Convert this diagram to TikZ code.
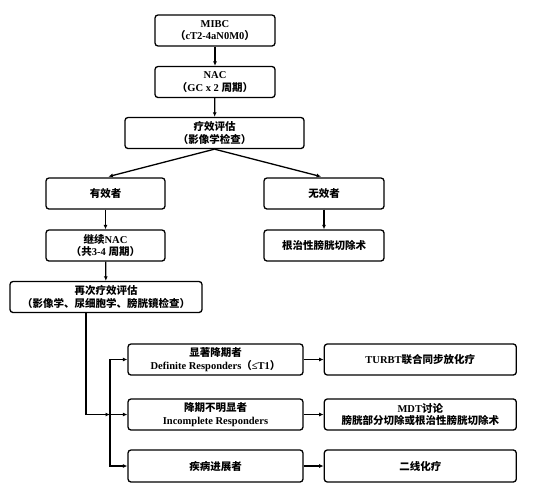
\documentclass[tikz,border=0pt]{standalone}
\usepackage{fontspec}
\setmainfont{Liberation Serif}
\newfontfamily\cjk{Noto Sans CJK SC}
\usetikzlibrary{arrows.meta, positioning}
\newcommand{\zh}[1]{{\cjk #1}}

\begin{document}
\begin{tikzpicture}[x=1pt, y=-1pt, font=\fontsize{10.5}{12.5}\selectfont\bfseries,
    >={Latex[length=4.5pt, width=4pt]}]
  % Box Styles
  \tikzstyle{flowbox} = [draw=black, rounded corners=3pt, line width=1.3pt,
    align=center, inner sep=1pt, minimum height=31pt]
  \tikzstyle{flowline} = [->, line width=1.3pt]

  \useasboundingbox (0,0) rectangle (537,496);

  % Upper trunk
  \node[flowbox, minimum width=120pt] (mibc) at (215,30.5)
    {MIBC\\\zh{（}cT2-4aN0M0\zh{）}};
  \node[flowbox, minimum width=120pt] (nac) at (215,82)
    {NAC\\\zh{（}GC x 2 \zh{周期）}};
  \node[flowbox, minimum width=179pt] (eval) at (214.5,133)
    {\zh{疗效评估}\\\zh{（影像学检查）}};

  % Two branches
  \node[flowbox, minimum width=119pt] (good) at (105.5,193.5) {\zh{有效者}};
  \node[flowbox, minimum width=120pt] (poor) at (324,193.5) {\zh{无效者}};
  \node[flowbox, minimum width=119pt] (contnac) at (105.5,245.5)
    {\zh{继续}NAC\\\zh{（共}3-4 \zh{周期）}};
  \node[flowbox, minimum width=120pt] (cystect) at (324,245.5) {\zh{根治性膀胱切除术}};
  \node[flowbox, minimum width=192pt] (reeval) at (106,297)
    {\zh{再次疗效评估}\\\zh{（影像学、尿细胞学、膀胱镜检查）}};

  % Response groups
  \node[flowbox, minimum width=175pt] (dr) at (215.5,359.5)
    {\zh{显著降期者}\\Definite Responders\zh{（}≤T1\zh{）}};
  \node[flowbox, minimum width=175pt] (ir) at (215.5,414.5)
    {\zh{降期不明显者}\\Incomplete Responders};
  \node[flowbox, minimum width=175pt, minimum height=32pt] (pd) at (215.5,466)
    {\zh{疾病进展者}};

  % Treatments
  \node[flowbox, minimum width=192pt, right=20pt of dr] (turbt) {TURBT\zh{联合同步放化疗}};
  \node[flowbox, minimum width=192pt, right=20pt of ir] (mdt)
    {MDT\zh{讨论}\\\zh{膀胱部分切除或根治性膀胱切除术}};
  \node[flowbox, minimum width=192pt, minimum height=32pt, right=20pt of pd] (second) {\zh{二线化疗}};

  \coordinate (split) at (110,414.5);

  % Connecting Arrows
  \draw[flowline] (mibc) -- (nac);
  \draw[flowline] (nac) -- (eval);
  \draw[flowline, shorten >=3pt] (eval.south) -- (good.north);
  \draw[flowline, shorten >=3pt] (eval.south) -- (poor.north);
  \draw[flowline] (good) -- (contnac);
  \draw[flowline] (poor) -- (cystect);
  \draw[flowline] (contnac) -- (reeval);
  \draw[flowline] ([xshift=-20pt]reeval.south) |- (split);
  \draw[flowline] (split) |- (dr.west);
  \draw[flowline] (split) -- (ir.west);
  \draw[flowline] (split) |- (pd.west);
  \draw[flowline] (dr) -- (turbt);
  \draw[flowline] (ir) -- (mdt);
  \draw[flowline] (pd) -- (second);
\end{tikzpicture}
\end{document}
